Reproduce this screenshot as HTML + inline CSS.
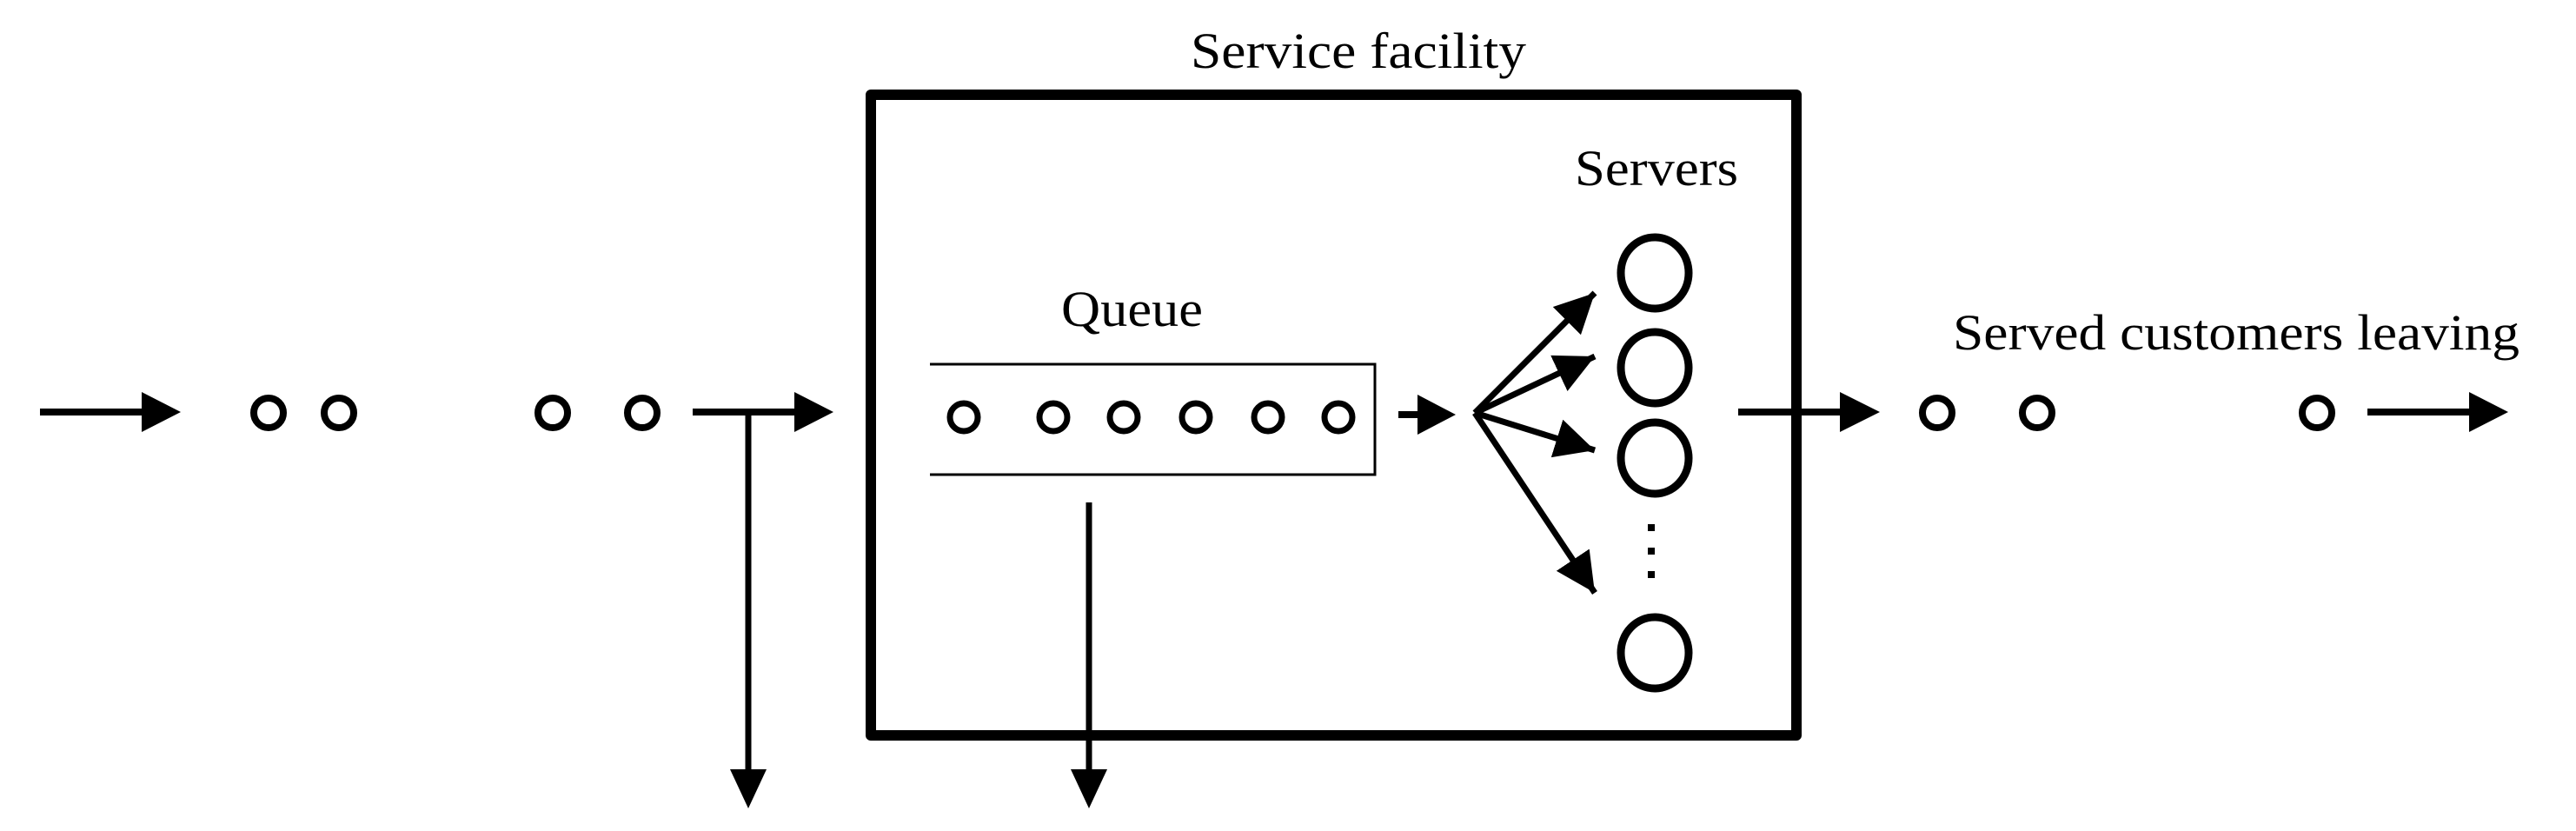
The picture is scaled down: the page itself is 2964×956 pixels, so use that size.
<!DOCTYPE html>
<html><head><style>html,body{margin:0;padding:0;background:#fff}svg{display:block}</style></head>
<body>
<svg width="2964" height="956" viewBox="0 0 2964 956" xmlns="http://www.w3.org/2000/svg">
<defs>
<marker id="ah" viewBox="0 0 10 10" refX="10" refY="5" markerWidth="6.5" markerHeight="6.5" markerUnits="strokeWidth" orient="auto"><path d="M0,0 L10,5 L0,10 z" fill="#000"/></marker>
</defs>
<g fill="none" stroke="#000">
<!-- main facility box -->
<rect x="1002" y="109" width="1065" height="737" stroke-width="12" stroke-linejoin="round"/>
<!-- queue -->
<path d="M1070,419 H1582 V546 H1070" stroke-width="3"/>
<!-- incoming arrow -->
<line x1="46" y1="474" x2="163" y2="474" stroke-width="8"/>
<polygon points="163,451 208,474 163,497" fill="#000" stroke="none"/>
<line x1="797" y1="474" x2="914" y2="474" stroke-width="8"/>
<polygon points="914,451 959,474 914,497" fill="#000" stroke="none"/>
<!-- balk down arrow -->
<line x1="861" y1="474" x2="861" y2="886" stroke-width="7"/>
<polygon points="840,885 882,885 861,930" fill="#000" stroke="none"/>
<!-- renege down arrow -->
<line x1="1253" y1="578" x2="1253" y2="886" stroke-width="7"/>
<polygon points="1232,885 1274,885 1253,930" fill="#000" stroke="none"/>
<!-- small arrow from queue -->
<line x1="1609" y1="477" x2="1632" y2="477" stroke-width="8"/>
<polygon points="1631,454 1675,477 1631,500" fill="#000" stroke="none"/>
<!-- fan arrows -->
<line x1="1697" y1="475" x2="1835" y2="337" stroke-width="7" marker-end="url(#ah)"/>
<line x1="1697" y1="475" x2="1835" y2="410" stroke-width="7" marker-end="url(#ah)"/>
<line x1="1697" y1="475" x2="1835" y2="518" stroke-width="7" marker-end="url(#ah)"/>
<line x1="1697" y1="475" x2="1835" y2="682" stroke-width="7" marker-end="url(#ah)"/>
<!-- exit arrow -->
<line x1="2000" y1="474" x2="2118" y2="474" stroke-width="8"/>
<polygon points="2117,451 2163,474 2117,497" fill="#000" stroke="none"/>
<line x1="2724" y1="474" x2="2842" y2="474" stroke-width="8"/>
<polygon points="2841,451 2886,474 2841,497" fill="#000" stroke="none"/>
<!-- arriving customers -->
<g stroke-width="8">
<circle cx="309" cy="475" r="17"/><circle cx="390" cy="475" r="17"/>
<circle cx="636" cy="475" r="17"/><circle cx="739" cy="475" r="17"/>
</g>
<!-- queue customers -->
<g stroke-width="7">
<circle cx="1109" cy="480" r="16"/><circle cx="1212" cy="480" r="16"/><circle cx="1293" cy="480" r="16"/>
<circle cx="1376" cy="480" r="16"/><circle cx="1459" cy="480" r="16"/><circle cx="1540" cy="480" r="16"/>
</g>
<!-- leaving customers -->
<g stroke-width="8">
<circle cx="2229" cy="475" r="17"/><circle cx="2344" cy="475" r="17"/><circle cx="2666" cy="475" r="17"/>
</g>
<!-- servers -->
<g stroke-width="9">
<ellipse cx="1904" cy="314" rx="39" ry="41"/>
<ellipse cx="1904" cy="423" rx="39" ry="41"/>
<ellipse cx="1904" cy="527" rx="39" ry="41"/>
<ellipse cx="1904" cy="751" rx="39" ry="41"/>
</g>
</g>
<g fill="#000">
<rect x="1896" y="603" width="8" height="8"/>
<rect x="1896" y="630" width="8" height="8"/>
<rect x="1896" y="657" width="8" height="8"/>
</g>
<g font-family="'Liberation Serif', serif" fill="#000">
<text x="1370" y="78" font-size="58" textLength="386" lengthAdjust="spacingAndGlyphs">Service facility</text>
<text x="1812" y="213" font-size="58" textLength="188" lengthAdjust="spacingAndGlyphs">Servers</text>
<text x="1221" y="375" font-size="58" textLength="163" lengthAdjust="spacingAndGlyphs">Queue</text>
<text x="2247" y="402" font-size="58" textLength="652" lengthAdjust="spacingAndGlyphs">Served customers leaving</text>
</g>
</svg>
</body></html>
